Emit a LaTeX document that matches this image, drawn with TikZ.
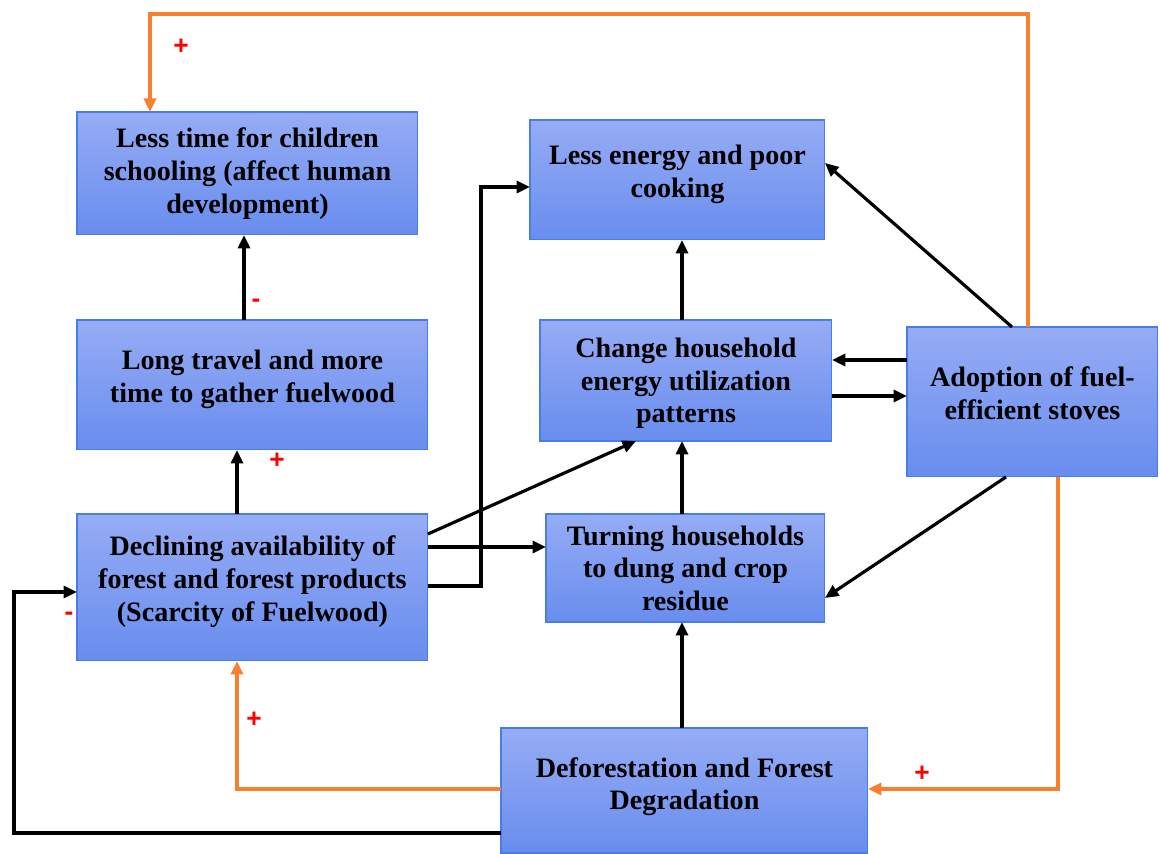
\documentclass[tikz,border=0pt]{standalone}
\usepackage{fontspec}
\setmainfont{Liberation Serif}
\newfontfamily\signfont{Liberation Sans}
\usetikzlibrary{arrows.meta,calc}
\definecolor{boxtop}{RGB}{150,172,245}
\definecolor{boxbot}{RGB}{104,141,238}
\definecolor{boxline}{RGB}{70,125,232}
\definecolor{orng}{RGB}{246,128,48}
\begin{document}
\begin{tikzpicture}[x=0.02cm,y=-0.02cm,
  box/.style={draw=boxline,line width=0.6pt,top color=boxtop,bottom color=boxbot,
    anchor=north west,inner sep=0pt,outer sep=0pt,align=center,text depth=10pt,
    font=\bfseries\fontsize{16}{18.6}\selectfont},
  arr/.style={line width=1.8pt,-{Triangle[length=0.27cm,width=0.24cm]}},
  oarr/.style={arr,draw=orng,color=orng},
  sgn/.style={text=red,font=\signfont\bfseries\fontsize{15}{15}\selectfont,inner sep=0pt}]
\useasboundingbox (0,0) rectangle (1160,854);
\fill[white] (0,0) rectangle (1160,854);

\node[box,text depth=3.2pt,minimum width=6.82cm,minimum height=2.46cm] (school) at (77,112)
  {Less time for children\\schooling (affect human\\development)};
\node[box,minimum width=7.02cm,minimum height=2.6cm] (travel) at (77,320)
  {Long travel and more\\time to gather fuelwood};
\node[box,minimum width=7.02cm,minimum height=2.94cm] (decl) at (77,514)
  {Declining availability of\\forest and forest products\\(Scarcity of Fuelwood)};
\node[box,minimum width=5.9cm,minimum height=2.4cm] (energy) at (530,120)
  {Less energy and poor\\cooking};
\node[box,text depth=-1.3pt,minimum width=5.84cm,minimum height=2.42cm] (change) at (540,320)
  {Change household\\energy utilization\\patterns};
\node[box,text depth=-2.4pt,minimum width=5.58cm,minimum height=2.16cm] (turn) at (546,514)
  {Turning households\\to dung and crop\\residue};
\node[box,minimum width=5.02cm,minimum height=3.0cm] (adopt) at (907,327)
  {Adoption of fuel-\\efficient stoves};
\node[box,text depth=7.7pt,minimum width=7.34cm,minimum height=2.5cm] (defo) at (501,728)
  {Deforestation and Forest\\Degradation};

% black connectors
\draw[arr] (travel.north -| 244,0) -- (school.south -| 244,0);
\draw[arr] (decl.north -| 237,0) -- (travel.south -| 237,0);
\draw[arr] (decl.east |- 0,586) -| (481,187) -- (energy.west |- 0,187);
\draw[arr] (decl.east |- 0,547) -- (turn.west |- 0,547);
\draw[arr] (decl.east |- 0,534) -- (change.south -| 636,0);
\draw[arr] (turn.north -| 682,0) -- (change.south -| 682,0);
\draw[arr] (change.north -| 682,0) -- (energy.south -| 682,0);
\draw[arr] (adopt.west |- 0,360) -- (change.east |- 0,360);
\draw[arr] (change.east |- 0,396) -- (adopt.west |- 0,396);
\draw[arr] (adopt.north -| 1012,0) -- (energy.east |- 0,163);
\draw[arr] (adopt.south -| 1006,0) -- (turn.east |- 0,598);
\draw[arr] (defo.north -| 682,0) -- (turn.south -| 682,0);
\draw[arr] (defo.west |- 0,833) -| (14,592) -- (decl.west |- 0,592);

% orange connectors
\draw[oarr] (defo.west |- 0,789) -| (decl.south -| 237,0);
\draw[oarr] (adopt.south -| 1058,0) |- (defo.east |- 0,789);
\draw[oarr] (adopt.north -| 1028,0) |- (150,14) -- (school.north -| 150,0);

% signs
\node[sgn] (s1) at (256,303) {-};
\node[sgn] (s2) at (277,461) {+};
\node[sgn] (s3) at (254,720) {+};
\node[sgn] (s4) at (922,774) {+};
\node[sgn] (s5) at (181,47) {+};
\node[sgn] (s6) at (69,616) {-};
\end{tikzpicture}
\end{document}
